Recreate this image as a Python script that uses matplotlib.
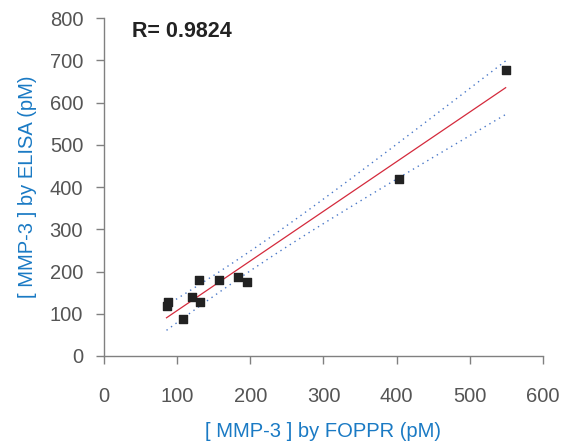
import numpy as np
import matplotlib
matplotlib.use("Agg")
import matplotlib.pyplot as plt

# MMP-3 measured by FOPPR (x) and ELISA (y), pM
foppr = [88, 85.5, 108, 130, 121, 131.6, 157, 183.6, 195, 403.6, 549]
elisa = [127, 119, 88, 179, 140, 127, 179, 186, 176, 420, 678]
r_text = "R= 0.9824"
x_ticks = [0, 100, 200, 300, 400, 500, 600]
y_ticks = [0, 100, 200, 300, 400, 500, 600, 700, 800]

plt.rcParams['font.family'] = ['Liberation Sans', 'DejaVu Sans']

x = np.array(foppr, dtype=float)
y = np.array(elisa, dtype=float)

# linear fit and 95% confidence band of the mean
slope, icpt = np.polyfit(x, y, 1)
n = len(x)
resid = y - (slope * x + icpt)
s = np.sqrt(np.sum(resid ** 2) / (n - 2))
t_val = 2.262  # t(0.975, df=9)
sxx = np.sum((x - x.mean()) ** 2)
xs = np.linspace(x.min(), x.max(), 100)
fit = slope * xs + icpt
half = t_val * s * np.sqrt(1.0 / n + (xs - x.mean()) ** 2 / sxx)

fig = plt.figure(figsize=(5.65, 4.46), dpi=100)
ax = fig.add_axes([0.184, 0.2018, 0.777, 0.7578])

ax.plot(xs, fit, color='#d42a3c', lw=0.9)
ax.plot(xs, fit + half, color='#4a78c8', lw=1.0, ls=(0, (1, 3)))
ax.plot(xs, fit - half, color='#4a78c8', lw=1.0, ls=(0, (1, 3)))
ax.scatter(x, y, marker='s', s=26, color='#222222', zorder=3)

ax.set_xlim(0, 600)
ax.set_ylim(0, 800)
ax.set_xticks(x_ticks)
ax.set_yticks(y_ticks)

for side in ['top', 'right']:
    ax.spines[side].set_visible(False)
for side in ['left', 'bottom']:
    ax.spines[side].set_color('#808080')
    ax.spines[side].set_linewidth(1.0)

ax.tick_params(axis='both', direction='out', length=6, width=1,
               color='#808080', labelcolor='#555555', labelsize=14.5)
ax.tick_params(axis='x', pad=16)
ax.tick_params(axis='y', pad=9)

ax.set_xlabel('[ MMP-3 ] by FOPPR (pM)', color='#1a7ac4', fontsize=14.5, labelpad=12)
ax.set_ylabel('[ MMP-3 ] by ELISA (pM)', color='#1a7ac4', fontsize=14.5, labelpad=9)

ax.text(0.064, 0.99, r_text, transform=ax.transAxes, fontsize=15.5,
        fontweight='bold', color='#222222', va='top', ha='left')

fig.savefig('out.png', dpi=100)
